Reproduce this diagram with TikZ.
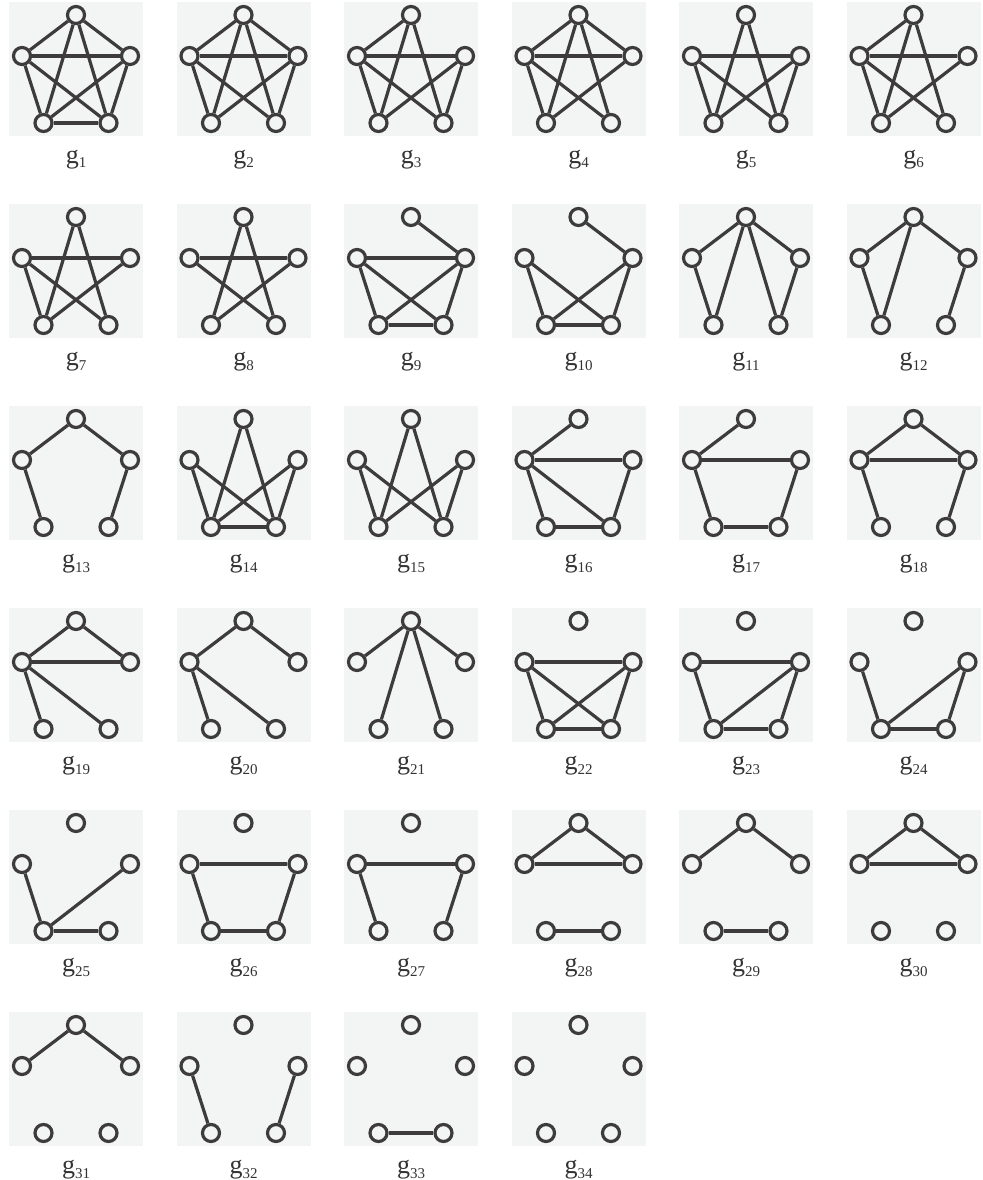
\documentclass[tikz,border=0pt]{standalone}
\usepackage{fontspec}
\setmainfont{Liberation Serif}

\definecolor{panelgray}{HTML}{F3F5F4}
\definecolor{inkgray}{HTML}{3D3B3B}
\newcommand{\glabel}[1]{{\fontsize{26}{28}\selectfont g}\raisebox{-5pt}{\fontsize{15}{16}\selectfont #1}}

\begin{document}
\begin{tikzpicture}[
    x=1pt, y=-1pt,
    panel/.style = {fill=panelgray, draw=none},
    vtx/.style   = {circle, draw=inkgray, fill=panelgray,
                    line width=3.2pt, minimum size=17pt, inner sep=0pt},
    edge/.style  = {draw=inkgray, line width=3.2pt},
    lbl/.style   = {anchor=base, inner sep=0pt, text=black!80},
  ]
  \useasboundingbox (0,0) rectangle (982,1180);
  % panels, vertices and labels
  \foreach \k in {1,...,34}{
    \pgfmathtruncatemacro{\gcol}{mod(\k-1,6)}
    \pgfmathtruncatemacro{\grow}{(\k-1)/6}
    \pgfmathsetmacro{\px}{9+167.5*\gcol}
    \pgfmathsetmacro{\py}{2+202*\grow}
    \fill[panel] (\px,\py) rectangle ++(134,134);
    \node[vtx] (g\k-t)  at (\px+67,\py+13)    {};
    \node[vtx] (g\k-l)  at (\px+13,\py+54)    {};
    \node[vtx] (g\k-r)  at (\px+121,\py+54)   {};
    \node[vtx] (g\k-bl) at (\px+34.5,\py+121) {};
    \node[vtx] (g\k-br) at (\px+99.5,\py+121) {};
    \node[lbl] (lbl\k)  at (\px+67,\py+161)   {\glabel{\k}};
  }
  % edges of each graph (g34 has none)
  \foreach \k/\edges in {
      1/{t/l,t/r,t/bl,t/br,l/r,l/bl,l/br,r/bl,r/br,bl/br},
      2/{t/l,t/r,t/bl,t/br,l/r,l/bl,l/br,r/bl,r/br},
      3/{t/l,t/bl,t/br,l/r,l/bl,l/br,r/bl,r/br},
      4/{t/l,t/r,t/bl,t/br,l/r,l/bl,l/br,r/bl},
      5/{t/bl,t/br,l/r,l/bl,l/br,r/bl,r/br},
      6/{t/l,t/bl,t/br,l/r,l/bl,l/br,r/bl},
      7/{t/bl,t/br,l/r,l/bl,l/br,r/bl},
      8/{t/bl,t/br,l/r,l/br,r/bl},
      9/{t/r,l/r,l/bl,l/br,r/bl,r/br,bl/br},
      10/{t/r,l/bl,l/br,r/bl,r/br,bl/br},
      11/{t/l,t/r,t/bl,t/br,l/bl,r/br},
      12/{t/l,t/r,t/bl,l/bl,r/br},
      13/{t/l,t/r,l/bl,r/br},
      14/{t/bl,t/br,l/bl,l/br,r/bl,r/br,bl/br},
      15/{t/bl,t/br,l/bl,l/br,r/bl,r/br},
      16/{t/l,l/r,l/bl,l/br,r/br,bl/br},
      17/{t/l,l/r,l/bl,r/br,bl/br},
      18/{t/l,t/r,l/r,l/bl,r/br},
      19/{t/l,t/r,l/r,l/bl,l/br},
      20/{t/l,t/r,l/bl,l/br},
      21/{t/l,t/r,t/bl,t/br},
      22/{l/r,l/bl,l/br,r/bl,r/br,bl/br},
      23/{l/r,l/bl,r/bl,r/br,bl/br},
      24/{l/bl,r/bl,r/br,bl/br},
      25/{l/bl,r/bl,bl/br},
      26/{l/r,l/bl,r/br,bl/br},
      27/{l/r,l/bl,r/br},
      28/{t/l,t/r,l/r,bl/br},
      29/{t/l,t/r,bl/br},
      30/{t/l,t/r,l/r},
      31/{t/l,t/r},
      32/{l/bl,r/br},
      33/{bl/br}}{
    \foreach \a/\b in \edges
      \draw[edge] (g\k-\a) -- (g\k-\b);
  }
\end{tikzpicture}
\end{document}
